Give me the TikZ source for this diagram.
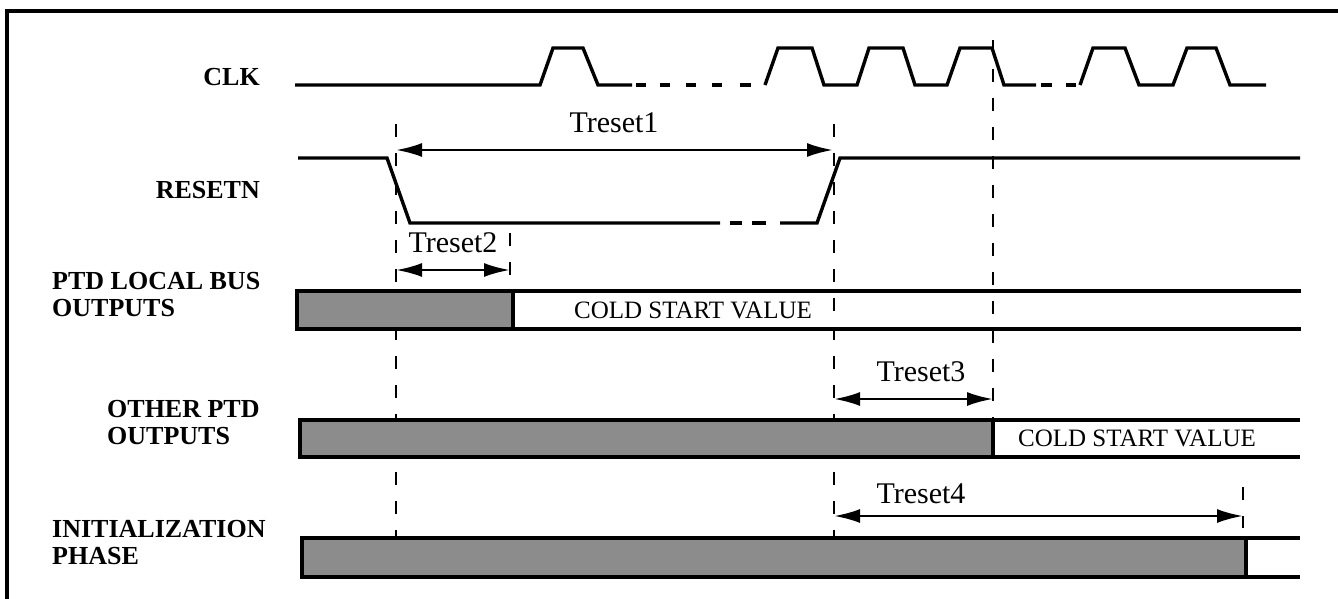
\documentclass[tikz,border=0pt]{standalone}
\usepackage{fontspec}
\setmainfont{Liberation Serif}
\usetikzlibrary{arrows.meta}
\begin{document}
\begin{tikzpicture}[x=1pt,y=-1pt,
  sig/.style={line width=3.4pt, line join=miter},
  vdash/.style={line width=2.8pt, dash pattern=on 13pt off 16pt},
  dim/.style={line width=2.6pt, {Latex[length=26pt,width=14pt]}-{Latex[length=26pt,width=14pt]}},
  lbl/.style={font=\fontsize{26}{27}\selectfont\bfseries, align=left, inner sep=0pt},
  tl/.style={font=\fontsize{30}{32}\selectfont, inner sep=0pt},
  csv/.style={font=\fontsize{25}{27}\selectfont, inner sep=0pt},
  hatch/.style={fill=black!45}
]
\useasboundingbox (0,0) rectangle (1338,599);
% frame
\draw[line width=3.6pt] (7,599) -- (7,11) -- (1338,11);

% labels
\node[lbl, anchor=east] (clk) at (260,77) {CLK};
\node[lbl, anchor=east] (rst) at (260,190) {RESETN};
\node[lbl, anchor=west] (ptd) at (52,295) {PTD LOCAL BUS\\OUTPUTS};
\node[lbl, anchor=west] (oth) at (107,423) {OTHER PTD\\OUTPUTS};
\node[lbl, anchor=west] (ini) at (52,543) {INITIALIZATION\\PHASE};

% dashed reference lines
\coordinate (a1) at (396,124); \coordinate (a2) at (396,538);
\coordinate (b1) at (834,124); \coordinate (b2) at (834,538);
\coordinate (c1) at (993,40);  \coordinate (c2) at (993,420);
\coordinate (d1) at (1243,487); \coordinate (d2) at (1243,528);
\coordinate (e1) at (510,233); \coordinate (e2) at (510,275);
\draw[vdash] (a1) -- (a2);
\draw[vdash] (b1) -- (b2);
\draw[vdash] (c1) -- (c2);
\draw[vdash] (d1) -- (d2);
\draw[vdash] (e1) -- (e2);

% CLK
\draw[sig] (295,85) -- (540,85) -- (553,48) -- (583,48) -- (598,85) -- (632,85);
\foreach \s/\e in {636/646, 660/670, 686/696, 712/722, 740/751}
  \draw[sig] (\s,85) -- (\e,85);
\draw[sig] (765,85) -- (778,48) -- (812,48) -- (824,85) -- (857,85) -- (869,48) -- (903,48)
  -- (915,85) -- (947,85) -- (960,48) -- (992,48) -- (1004,85) -- (1036,85);
\draw[sig] (1041,85) -- (1052,85);
\draw[sig] (1066,85) -- (1076,85);
\draw[sig] (1080,85) -- (1093,48) -- (1125,48) -- (1139,85) -- (1173,85) -- (1187,48)
  -- (1216,48) -- (1230,85) -- (1266,85);

% RESETN
\draw[sig] (298,158) -- (387,158) -- (410,223) -- (720,223);
\draw[sig] (730,223) -- (742,223);
\draw[sig] (752,223) -- (766,223);
\draw[sig] (780,223) -- (817,223) -- (840,158) -- (1300,158);

% PTD LOCAL BUS OUTPUTS
\fill[hatch] (297,291) rectangle (513,329);
\draw[sig] (1301,291) -- (297,291) -- (297,329) -- (1301,329);
\draw[sig] (513,291) -- (513,329);
\node[csv] (cs1) at (693,310) {COLD START VALUE};

% OTHER PTD OUTPUTS
\fill[hatch] (300,420) rectangle (993,457);
\draw[sig] (1300,420) -- (300,420) -- (300,457) -- (1300,457);
\draw[sig] (993,420) -- (993,457);
\node[csv] (cs2) at (1137,438) {COLD START VALUE};

% INITIALIZATION PHASE
\fill[hatch] (302,538) rectangle (1246,577);
\draw[sig] (1300,538) -- (302,538) -- (302,577) -- (1300,577);
\draw[line width=4.4pt] (1246,538) -- (1246,577);

% dimensions
\coordinate (r1l) at (396,150); \coordinate (r1r) at (833,150);
\coordinate (r2l) at (396,270); \coordinate (r2r) at (510,270);
\coordinate (r3l) at (834,399); \coordinate (r3r) at (993,399);
\coordinate (r4l) at (834,516); \coordinate (r4r) at (1243,516);
\draw[dim] (r1l) -- (r1r);
\draw[dim] (r2l) -- (r2r);
\draw[dim] (r3l) -- (r3r);
\draw[dim] (r4l) -- (r4r);
\node[tl] (t1) at (614,123) {Treset1};
\node[tl] (t2) at (453,243) {Treset2};
\node[tl] (t3) at (921,372) {Treset3};
\node[tl] (t4) at (921,494) {Treset4};
\end{tikzpicture}
\end{document}
